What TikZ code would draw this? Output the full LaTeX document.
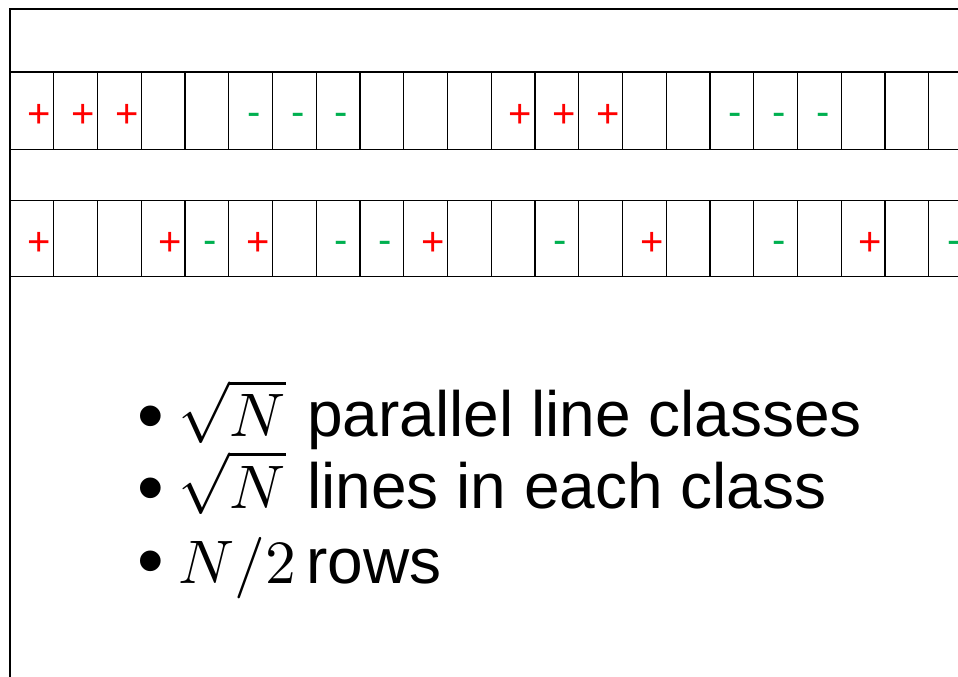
\documentclass[tikz,border=0pt]{standalone}
\usepackage{fontspec}
\usepackage{graphicx}
\newfontfamily\arialf{Liberation Sans}
\definecolor{mkred}{RGB}{255,0,0}
\definecolor{mkgreen}{RGB}{0,176,80}
\tikzset{
  cellbox/.style={draw=black, line width=1.4pt, minimum width=43.75pt, minimum height=77pt, inner sep=0pt, outer sep=0pt},
  plusmk/.style={text=mkred, font=\arialf\fontsize{40}{48}\selectfont, inner sep=0pt, anchor=base},
  minusmk/.style={text=mkgreen, font=\arialf\fontsize{40}{48}\selectfont, inner sep=0pt, anchor=base},
  bulletmk/.style={font=\arialf\fontsize{76}{90}\selectfont, inner sep=0pt, anchor=base},
  mathtxt/.style={inner sep=0pt, anchor=base west},
  bodytxt/.style={font=\arialf\fontsize{64}{76}\selectfont, inner sep=0pt, anchor=base west},
  framel/.style={draw=black, line width=1.6pt}
}
\newcommand{\bigmath}[1]{\scalebox{6.15}{$#1$}}
\begin{document}
\begin{tikzpicture}[x=1pt,y=-1pt]
\useasboundingbox (0,0) rectangle (958,677);
\clip (0,0) rectangle (958,677);
\fill[white] (0,0) rectangle (958,677);
% frame
\draw[framel] (958,9) -- (10,9) -- (10,680);
% cells
\foreach \k in {0,...,21} {
  \node[cellbox] (ra\k) at (10+43.75*\k+21.875,110.7) {};
  \node[cellbox, minimum height=76pt] (rb\k) at (10+43.75*\k+21.875,238.7) {};
}
% row 1 markers
\foreach \k in {0,1,2,11,12,13} \node[plusmk] (pa\k) at (10+43.75*\k+29.3,127) {+};
\foreach \k in {5,6,7,16,17,18} \node[minusmk] (ma\k) at (10+43.75*\k+25.3,125) {-};
% row 2 markers
\foreach \k in {0,3,5,9,14,19} \node[plusmk] (pb\k) at (10+43.75*\k+29.3,255) {+};
\foreach \k in {4,7,8,12,17,21} \node[minusmk] (mb\k) at (10+43.75*\k+25.3,253) {-};
% bullet list
\node[bulletmk] (b1) at (151,441) {•};
\node[mathtxt] (m1) at (178,436.7) {\bigmath{\sqrt{N}}};
\node[bodytxt] (t1) at (307,436.7) {parallel line classes};
\node[bulletmk] (b2) at (151,513.5) {•};
\node[mathtxt] (m2) at (178,508) {\bigmath{\sqrt{N}}};
\node[bodytxt] (t2) at (307,508) {lines in each class};
\node[bulletmk] (b3) at (151,586) {•};
\node[mathtxt] (m3) at (178,583.3) {\bigmath{N/2}};
\node[bodytxt] (t3) at (306,583.3) {rows};
\end{tikzpicture}
\end{document}
